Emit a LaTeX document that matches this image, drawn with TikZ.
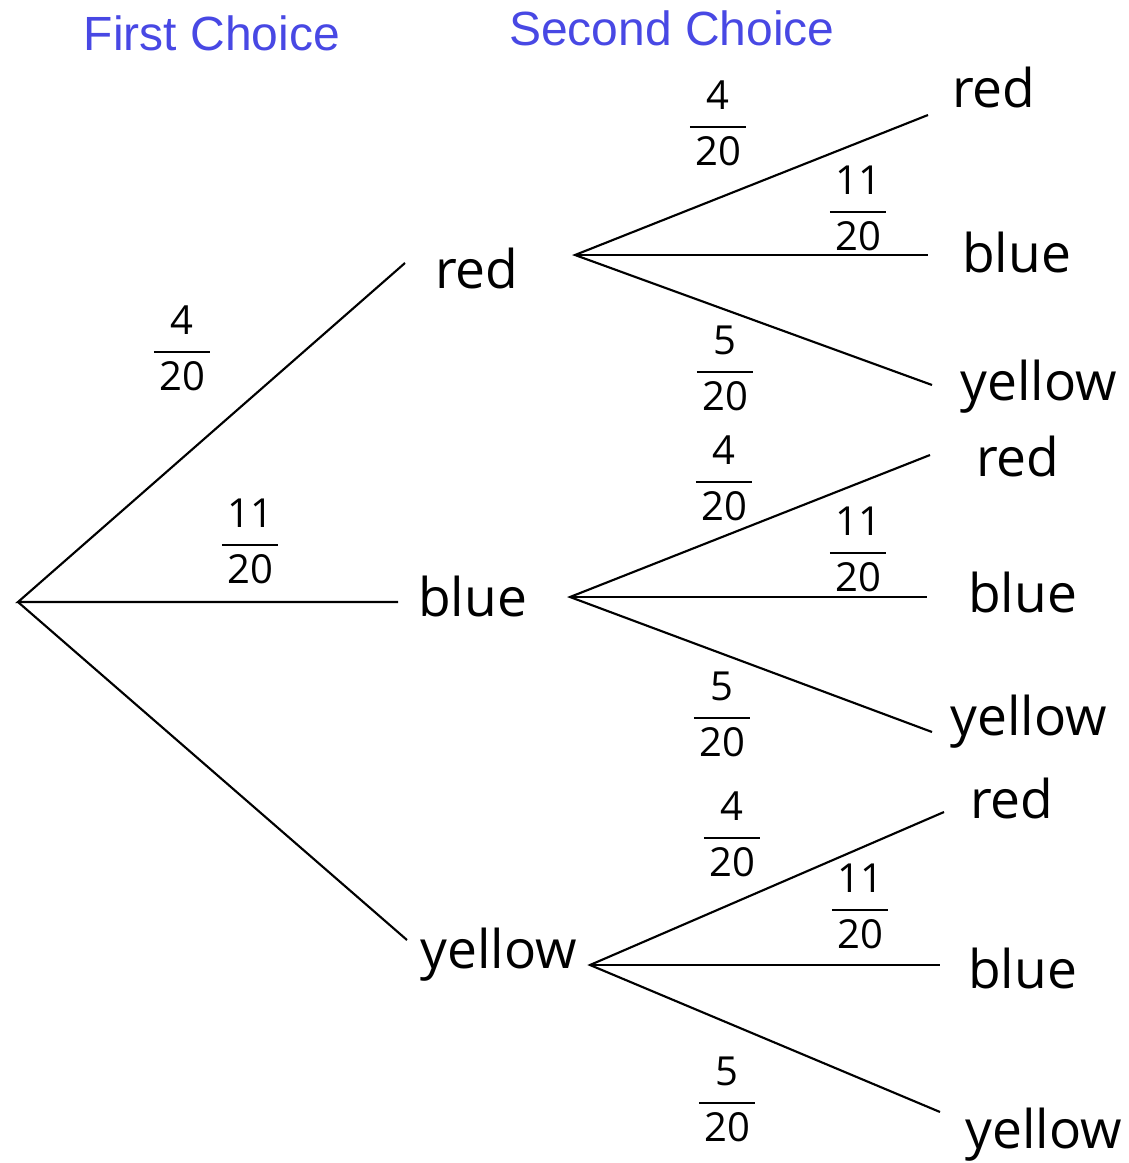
\documentclass[tikz,border=0pt]{standalone}
\usepackage{fontspec}
\setmainfont{Open Sans}
\newfontfamily\headfont{Liberation Sans}
\usepackage{array}
\definecolor{headblue}{RGB}{72,72,228}
\newcommand\fr[2]{{\setlength{\arrayrulewidth}{1.8pt}\renewcommand{\arraystretch}{1.2}\begin{tabular}{@{\hspace{4pt}}c@{\hspace{4pt}}}#1\\\hline #2\end{tabular}}}
\begin{document}
\begin{tikzpicture}[x=0.75pt,y=-0.75pt,
  lbl/.style={anchor=base west,inner sep=0pt,font=\fontsize{40}{44}\selectfont},
  prob/.style={inner sep=0pt,font=\fontsize{30}{33}\selectfont},
  head/.style={inner sep=0pt,text=headblue,font=\headfont\fontsize{36}{40}\selectfont},
  branch/.style={line width=1.6pt}]
\useasboundingbox (0,0) rectangle (1128,1163);
% headings
\node[head] (h1) at (212,33) {First Choice};
\node[head] (h2) at (672,28) {Second Choice};
% root and branch points
\coordinate (root) at (18,602);
\coordinate (R) at (575,255);
\coordinate (B) at (570,597);
\coordinate (Y) at (590,965);
% line ends
\coordinate (eR) at (405,263);
\coordinate (eB) at (398,602);
\coordinate (eY) at (407,940);
\coordinate (eRR) at (928,115);
\coordinate (eRB) at (928,255);
\coordinate (eRY) at (932,385);
\coordinate (eBR) at (930,455);
\coordinate (eBB) at (927,597);
\coordinate (eBY) at (932,732);
\coordinate (eYR) at (944,812);
\coordinate (eYB) at (940,965);
\coordinate (eYY) at (940,1112);
% first level labels
\node[lbl] (nR) at (435,288) {red};
\node[lbl] (nB) at (418,616) {blue};
\node[lbl] (nY) at (420,968) {yellow};
% second level labels
\node[lbl] (nRR) at (952,108) {red};
\node[lbl] (nRB) at (962,272) {blue};
\node[lbl] (nRY) at (960,400) {yellow};
\node[lbl] (nBR) at (976,476) {red};
\node[lbl] (nBB) at (968,612) {blue};
\node[lbl] (nBY) at (950,735) {yellow};
\node[lbl] (nYR) at (970,818) {red};
\node[lbl] (nYB) at (968,988) {blue};
\node[lbl] (nYY) at (965,1148) {yellow};
% connectors
\draw[branch] (eR) -- (root) -- (eB);
\draw[branch] (root) -- (eY);
\draw[branch] (eRR) -- (R) -- (eRY);
\draw[branch] (R) -- (eRB);
\draw[branch] (eBR) -- (B) -- (eBY);
\draw[branch] (B) -- (eBB);
\draw[branch] (eYR) -- (Y) -- (eYY);
\draw[branch] (Y) -- (eYB);
% probabilities
\node[prob] (p1) at (182,352) {\fr{4}{20}};
\node[prob] (p2) at (250,545) {\fr{11}{20}};
\node[prob] (pRR) at (718,127) {\fr{4}{20}};
\node[prob] (pRB) at (858,212) {\fr{11}{20}};
\node[prob] (pRY) at (725,372) {\fr{5}{20}};
\node[prob] (pBR) at (724,482) {\fr{4}{20}};
\node[prob] (pBB) at (858,553) {\fr{11}{20}};
\node[prob] (pBY) at (722,718) {\fr{5}{20}};
\node[prob] (pYR) at (732,838) {\fr{4}{20}};
\node[prob] (pYB) at (860,910) {\fr{11}{20}};
\node[prob] (pYY) at (727,1103) {\fr{5}{20}};
\end{tikzpicture}
\end{document}
